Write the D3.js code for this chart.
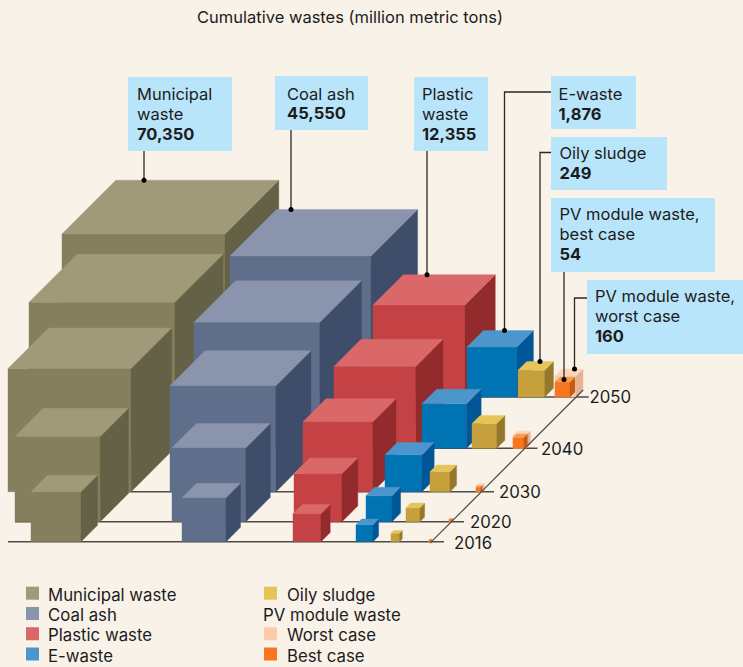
<!DOCTYPE html>
<html>
<head>
<meta charset="utf-8">
<script src="https://cdn.jsdelivr.net/npm/d3@7/dist/d3.min.js"></script>
<style>
html,body{margin:0;padding:0;background:#f8f2e9;}
svg{display:block;font-family:Inter,"Noto Sans",sans-serif;}
</style>
</head>
<body>
<svg id="chart" width="743" height="667"></svg>
<script>
// ---- data (million metric tons, cumulative) ----
const years = [2016, 2020, 2030, 2040, 2050];
const seriesKeys = ["municipal", "coal", "plastic", "ewaste", "oily", "pvWorst", "pvBest"];
const municipal = [2028, 10050, 30300, 50500, 70350];
const coal      = [1382, 6550, 19330, 32460, 45550];
const plastic   = [348, 1754, 5440, 8745, 12355];
const ewaste    = [74, 265, 762, 1327, 1876];
const oily      = [8, 36, 105, 198, 249];
const pvWorst   = [0.1, 0.3, 4, 38, 160];
const pvBest    = [0.1, 0.25, 1.5, 20, 54];
const seriesValues = {municipal, coal, plastic, ewaste, oily, pvWorst, pvBest};

const legendLeft  = ["Municipal waste", "Coal ash", "Plastic waste", "E-waste"];
const legendRight = ["Oily sludge", "PV module waste", "Worst case", "Best case"];

// ---- styles ----
const colours = {
  municipal: {front:"#857f5d", top:"#a09a78", side:"#656146"},
  coal:      {front:"#5f6e8a", top:"#8b94ad", side:"#3e4e6a"},
  plastic:   {front:"#c44244", top:"#db6868", side:"#932a2b"},
  ewaste:    {front:"#0073b3", top:"#4c96cc", side:"#005697"},
  oily:      {front:"#c5a03c", top:"#e5c558", side:"#94792c"},
  pvWorst:   {front:"#fccbaa", top:"#fdd5b8", side:"#e9b193"},
  pvBest:    {front:"#f7761f", top:"#f99a50", side:"#c55a14"}
};
const boxFill = "#b9e5fb", ink = "#1c1c1c", ruleInk = "#4e4a45";
const textSize = 16.8, calloutSize = 16.5;

// ---- scales ----
const floorY = d3.scaleOrdinal(years, [541.7, 521.7, 491.7, 448.3, 397]);
const edge = d3.scalePow().exponent(1/3).domain([0, 70350]).range([0, 163]);
// small per-series correction: the source's cubes are not all on exactly one cube-root scale
const edgeFactor = d3.scaleOrdinal(seriesKeys, [1, 1, 1.007, 1.025, 1.073, 0.98, 1.005]);
const depthRatio = 0.33;
// left edge of each series' cube on each year's row
const rowLeft = new Map([
  [2016, d3.scaleOrdinal(seriesKeys, [31, 182, 293, 356, 391, 429, 429])],
  [2020, d3.scaleOrdinal(seriesKeys, [15, 172, 294, 366, 406, 449, 449])],
  [2030, d3.scaleOrdinal(seriesKeys, [8, 170, 303, 385, 430, 476, 476])],
  [2040, d3.scaleOrdinal(seriesKeys, [29, 194, 334, 422, 472, 513, 513])],
  [2050, d3.scaleOrdinal(seriesKeys, [62, 230, 373, 467, 518, 555, 555])]
]);
const ruleStart = d3.scaleOrdinal(years, [8, 15, 30, 40, 70]);
const yearLabelX = d3.scaleOrdinal(years, [454, 470, 499, 541, 589.5]);
const yearLabelY = d3.scaleOrdinal(years, [549, 528, 498, 454.5, 403]);
const axisX = d3.scaleLinear().domain([floorY(2016), floorY(2050)]).range([430, 574.7]);

const svg = d3.select("#chart");
svg.append("rect").attr("width", 743).attr("height", 667).attr("fill", "#f8f2e9");

svg.append("text").attr("x", 197).attr("y", 23)
  .attr("font-size", 16.5).attr("fill", ink)
  .text("Cumulative wastes (million metric tons)");

function cube(year, key) {
  const i = years.indexOf(year), v = seriesValues[key][i];
  const e = edge(v) * edgeFactor(key), d = e * depthRatio;
  const x = rowLeft.get(year)(key), y = floorY(year);
  return {year, key, x, y, e, d};
}
const facePts = {
  front: c => [[c.x, c.y], [c.x + c.e, c.y], [c.x + c.e, c.y - c.e], [c.x, c.y - c.e]],
  top:   c => [[c.x, c.y - c.e], [c.x + c.e, c.y - c.e], [c.x + c.e + c.d, c.y - c.e - c.d], [c.x + c.d, c.y - c.e - c.d]],
  side:  c => [[c.x + c.e, c.y], [c.x + c.e + c.d, c.y - c.d], [c.x + c.e + c.d, c.y - c.e - c.d], [c.x + c.e, c.y - c.e]]
};
const linePath = d3.line();

// rows are painted back to front, left to right
const rowOrder = years.slice().reverse();
const marks = svg.append("g");
rowOrder.forEach(year => {
  const row = marks.append("g");
  row.append("line")
    .attr("x1", ruleStart(year)).attr("x2", axisX(floorY(year)) + 14)
    .attr("y1", floorY(year)).attr("y2", floorY(year))
    .attr("stroke", ruleInk).attr("stroke-width", 1.4);
  const cubes = row.selectAll("g.cube").data(seriesKeys.map(k => cube(year, k)))
    .join("g").attr("class", "cube");
  ["front", "side", "top"].forEach(face => {
    cubes.append("path")
      .attr("d", c => linePath(facePts[face](c)) + "Z")
      .attr("fill", c => colours[c.key][face])
      .attr("stroke", c => colours[c.key][face])
      .attr("stroke-width", 0.4);
  });
});

// depth axis
svg.append("line")
  .attr("x1", axisX(floorY(2016))).attr("y1", floorY(2016) + 1.5)
  .attr("x2", axisX(floorY(2050)) + 8.5).attr("y2", floorY(2050) - 7)
  .attr("stroke", ruleInk).attr("stroke-width", 1.2);

// year labels
svg.append("g").selectAll("text").data(years).join("text")
  .attr("x", y => yearLabelX(y))
  .attr("y", y => yearLabelY(y))
  .attr("font-size", textSize).attr("fill", ink)
  .text(y => y);

// callouts
const callouts = [
  {key:"municipal", lines:["Municipal","waste"], value:"70,350", box:[128,77,104,74], tx:137, lx:144, base:100},
  {key:"coal", lines:["Coal ash"], value:"45,550", box:[275,76,93,54], tx:287, lx:291, base:99.5},
  {key:"plastic", lines:["Plastic","waste"], value:"12,355", box:[414,77,74,74], tx:422, lx:427, base:100},
  {key:"ewaste", lines:["E-waste"], value:"1,876", box:[551,76,85,53], tx:558.5, lx:504.5, elbow:92, base:100},
  {key:"oily", lines:["Oily sludge"], value:"249", box:[551,137,116,53], tx:559.5, lx:540, elbow:152.5, base:159},
  {key:"pvBest", lines:["PV module waste,","best case"], value:"54", box:[551,198,164,74], tx:559.5, lx:564, dotShift:2.5, base:220},
  {key:"pvWorst", lines:["PV module waste,","worst case"], value:"160", box:[587,280,156,74], tx:595, lx:574.5, elbow:298, base:302}
];
const calloutG = svg.append("g");
callouts.forEach(c => {
  const cb = cube(2050, c.key);
  const dotY = cb.y - cb.e - cb.d + (c.dotShift || 0);
  const [bx, by, bw, bh] = c.box;
  const pts = c.elbow !== undefined
    ? [[bx, c.elbow], [c.lx, c.elbow], [c.lx, dotY]]
    : [[c.lx, by + bh], [c.lx, dotY]];
  calloutG.append("path").attr("d", linePath(pts)).attr("fill", "none")
    .attr("stroke", "#2a2825").attr("stroke-width", 1.3);
  calloutG.append("circle").attr("cx", c.lx).attr("cy", dotY).attr("r", 2.5).attr("fill", "#000");
  calloutG.append("rect").attr("x", bx).attr("y", by).attr("width", bw).attr("height", bh).attr("fill", boxFill);
  c.lines.forEach((t, i) => {
    calloutG.append("text").attr("x", c.tx).attr("y", c.base + i * 20)
      .attr("font-size", calloutSize).attr("fill", ink).text(t);
  });
  calloutG.append("text").attr("x", c.tx).attr("y", c.base + c.lines.length * 19.8)
    .attr("font-size", calloutSize).attr("font-weight", 700).attr("fill", ink).text(c.value);
});

// legend
const legendY = d3.scalePoint().domain(d3.range(4)).range([600.7, 661.5]);
const legend = svg.append("g").attr("font-size", textSize).attr("fill", ink);
legendLeft.forEach((t, i) => {
  legend.append("rect").attr("x", 26).attr("y", legendY(i) - 14).attr("width", 13).attr("height", 13)
    .attr("fill", colours[seriesKeys[i]].top);
  legend.append("text").attr("x", 48).attr("y", legendY(i)).text(t);
});
const rightSwatch = ["#e5c558", null, "#fccbaa", "#f7761f"];
legendRight.forEach((t, i) => {
  if (rightSwatch[i]) {
    legend.append("rect").attr("x", 264).attr("y", legendY(i) - 14).attr("width", 13).attr("height", 13)
      .attr("fill", rightSwatch[i]);
  }
  legend.append("text").attr("x", rightSwatch[i] ? 287 : 263).attr("y", legendY(i)).text(t);
});
</script>
</body>
</html>
